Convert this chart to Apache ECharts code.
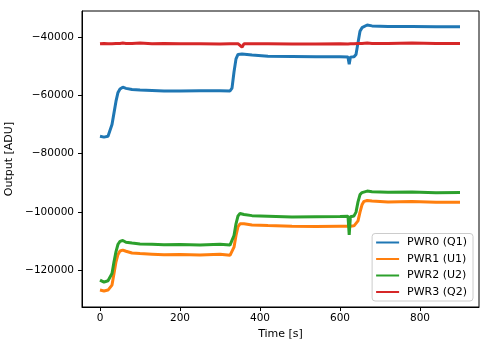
<!DOCTYPE html>
<html>
<head>
<meta charset="utf-8">
<script src="https://cdn.jsdelivr.net/npm/echarts@6/dist/echarts.min.js"></script>
<style>html,body{margin:0;padding:0;background:#fff}#c{width:490px;height:347px}</style>
</head>
<body>
<div id="c"></div>
<script>
// Time axis [s]
const times = [0, 10, 20, 25, 30, 35, 40, 45, 50, 57, 65, 80, 100, 130, 160, 200, 250, 300, 325, 330, 335, 340, 345, 350, 355, 360, 380, 420, 480, 540, 600, 620, 623, 626, 635, 640, 645, 650, 655, 660, 668, 680, 720, 780, 840, 900];
// Output [ADU]
const pwr0 = [-74000, -74300, -74000, -73500, -70000, -66000, -62000, -59000, -57800, -57200, -57600, -58000, -58200, -58300, -58500, -58500, -58400, -58400, -58500, -57500, -52000, -47500, -46000, -45800, -45800, -46000, -46200, -46600, -46700, -46800, -46800, -46900, -49300, -46900, -46800, -46000, -42000, -38000, -36800, -36200, -35900, -36200, -36400, -36400, -36500, -36500];
const pwr1 = [-126700, -127000, -126700, -126500, -125000, -121000, -117000, -114500, -113300, -113000, -113400, -114000, -114200, -114400, -114600, -114500, -114700, -114400, -114800, -114500, -112000, -108000, -105000, -104000, -104000, -104000, -104400, -104600, -104800, -104900, -104800, -104800, -104900, -104800, -104700, -104500, -103000, -100000, -97500, -96300, -96000, -96200, -96500, -96400, -96600, -96600];
const pwr2 = [-123300, -124000, -123500, -123000, -121000, -117000, -113500, -111000, -110000, -109700, -110300, -110600, -110900, -111000, -111200, -111100, -111300, -111000, -111300, -110800, -108000, -104000, -101300, -100500, -100600, -100800, -101200, -101400, -101700, -101600, -101500, -101400, -107800, -101600, -101300, -100000, -96500, -94000, -93300, -92800, -92800, -93000, -93200, -93100, -93400, -93300];
const pwr3 = [-42300, -42200, -42300, -42200, -42300, -42100, -42200, -42300, -42200, -42100, -42200, -42200, -42100, -42300, -42200, -42300, -42300, -42400, -42300, -42300, -42300, -42300, -42300, -42300, -43500, -42300, -42300, -42300, -42400, -42400, -42300, -42400, -42500, -42300, -42300, -42300, -42200, -42200, -42200, -42200, -42100, -42200, -42200, -42100, -42200, -42200];
const seriesNames = ['PWR0 (Q1)', 'PWR1 (U1)', 'PWR2 (U2)', 'PWR3 (Q2)'];
const seriesColors = ['#1f77b4', '#ff7f0e', '#2ca02c', '#d62728'];
const xTicks = [0, 200, 400, 600, 800];
const yTicks = [-120000, -100000, -80000, -60000, -40000];

const allData = [pwr0, pwr1, pwr2, pwr3];
const font = 'DejaVu Sans';
const fmt = v => (v < 0 ? '\u2212' + Math.abs(v) : String(v));

const chart = echarts.init(document.getElementById('c'), null, {renderer: 'canvas'});
chart.setOption({
  animation: false,
  backgroundColor: '#fff',
  textStyle: {fontFamily: font},
  grid: {left: 82, right: 11, top: 11, bottom: 40, show: true, borderColor: '#000', borderWidth: 1, containLabel: false, outerBoundsMode: 'none'},
  legend: {
    orient: 'vertical', right: 17, bottom: 46,
    data: seriesNames.map(n => ({name: n, icon: 'rect'})),
    itemWidth: 23, itemHeight: 2, itemGap: 4.5,
    padding: [3, 6, 3, 4],
    borderColor: '#cccccc', borderWidth: 1, borderRadius: 3,
    backgroundColor: 'rgba(255,255,255,0.8)',
    textStyle: {fontFamily: font, fontSize: 11, color: '#000', lineHeight: 12, padding: [0, 0, 0, 3]}
  },
  xAxis: {
    type: 'value', min: -45, max: 947.5,
    name: 'Time [s]', nameLocation: 'middle', nameGap: 20,
    nameTextStyle: {fontFamily: font, fontSize: 11, color: '#000'},
    axisLine: {show: true, onZero: false, lineStyle: {color: '#000', width: 1}},
    axisTick: {show: true, inside: false, length: 4, lineStyle: {color: '#000'}, customValues: xTicks},
    axisLabel: {fontFamily: font, fontSize: 10.5, color: '#000', margin: 6, customValues: xTicks, formatter: fmt},
    splitLine: {show: false}
  },
  yAxis: {
    type: 'value', min: -132500, max: -31100,
    name: 'Output [ADU]', nameLocation: 'middle', nameGap: 60,
    nameTextStyle: {fontFamily: font, fontSize: 11, color: '#000'},
    axisLine: {show: true, onZero: false, lineStyle: {color: '#000', width: 1}},
    axisTick: {show: true, inside: false, length: 4, lineStyle: {color: '#000'}, customValues: yTicks},
    axisLabel: {fontFamily: font, fontSize: 10.5, color: '#000', margin: 8, customValues: yTicks, formatter: fmt},
    splitLine: {show: false}
  },
  series: allData.map((d, i) => ({
    name: seriesNames[i], type: 'line', showSymbol: false, symbol: 'none',
    data: times.map((t, k) => [t, d[k]]),
    lineStyle: {color: seriesColors[i], width: 3},
    itemStyle: {color: seriesColors[i]},
    z: 2 + i
  }))
});
</script>
</body>
</html>
